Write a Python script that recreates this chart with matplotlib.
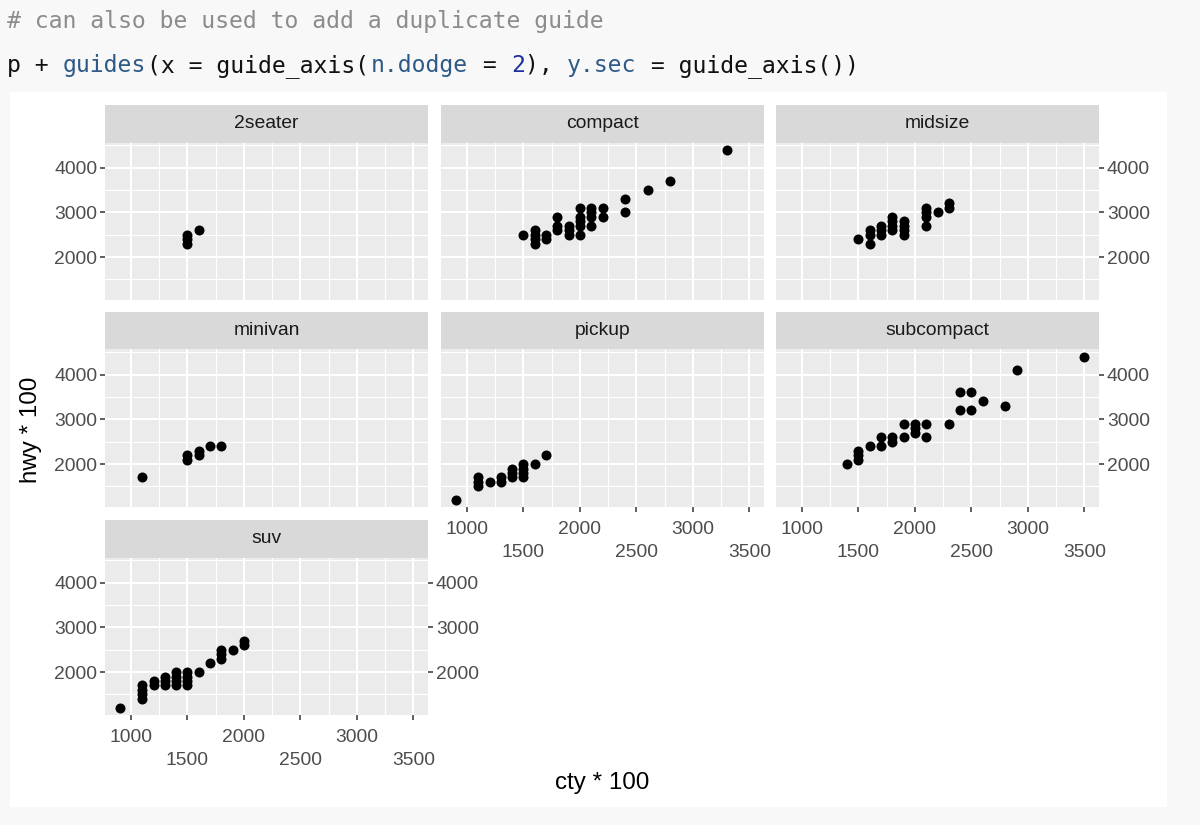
import matplotlib
matplotlib.use("Agg")
import matplotlib.pyplot as plt
from matplotlib.patches import Rectangle

# ── DATA (cty * 100, hwy * 100 read from the facets) ──────────
classes = ["2seater", "compact", "midsize", "minivan", "pickup", "subcompact", "suv"]

seater_x = [1500, 1500, 1500, 1600]
seater_y = [2300, 2400, 2500, 2600]

compact_x = [1500, 1600, 1600, 1600, 1600, 1700, 1700, 1800, 1800, 1800,
             1900, 1900, 1900, 2000, 2000, 2000, 2000, 2000, 2100, 2100,
             2100, 2100, 2200, 2200, 2400, 2400, 2600, 2800, 3300]
compact_y = [2500, 2600, 2500, 2400, 2300, 2500, 2400, 2900, 2700, 2600,
             2700, 2600, 2500, 3100, 2900, 2800, 2700, 2500, 3100, 3000,
             2900, 2700, 3100, 2900, 3300, 3000, 3500, 3700, 4400]

midsize_x = [1500, 1600, 1600, 1600, 1700, 1700, 1700, 1800, 1800, 1800,
             1800, 1900, 1900, 1900, 1900, 2100, 2100, 2100, 2100, 2200,
             2300, 2300]
midsize_y = [2400, 2600, 2500, 2300, 2700, 2600, 2500, 2900, 2800, 2700,
             2600, 2800, 2700, 2600, 2500, 3100, 3000, 2900, 2700, 3000,
             3200, 3100]

minivan_x = [1100, 1500, 1500, 1600, 1600, 1700, 1800]
minivan_y = [1700, 2200, 2100, 2300, 2200, 2400, 2400]

pickup_x = [900, 1100, 1100, 1100, 1200, 1300, 1300, 1400, 1400, 1400,
            1500, 1500, 1500, 1500, 1600, 1700]
pickup_y = [1200, 1700, 1600, 1500, 1600, 1700, 1600, 1900, 1800, 1700,
            2000, 1900, 1800, 1700, 2000, 2200]

subcompact_x = [1400, 1500, 1500, 1500, 1600, 1700, 1700, 1800, 1800, 1900,
                1900, 2000, 2000, 2000, 2100, 2100, 2300, 2400, 2400, 2500,
                2500, 2600, 2800, 2900, 3500]
subcompact_y = [2000, 2300, 2200, 2100, 2400, 2600, 2400, 2600, 2500, 2900,
                2600, 2900, 2800, 2700, 2900, 2600, 2900, 3600, 3200, 3600,
                3200, 3400, 3300, 4100, 4400]

suv_x = [900, 1100, 1100, 1100, 1100, 1200, 1200, 1300, 1300, 1300,
         1400, 1400, 1400, 1400, 1500, 1500, 1500, 1500, 1600, 1700,
         1800, 1800, 1800, 1900, 2000, 2000]
suv_y = [1200, 1700, 1600, 1500, 1400, 1800, 1700, 1900, 1800, 1700,
         2000, 1900, 1800, 1700, 2000, 1900, 1800, 1700, 2000, 2200,
         2500, 2400, 2300, 2500, 2700, 2600]

xs = [seater_x, compact_x, midsize_x, minivan_x, pickup_x, subcompact_x, suv_x]
ys = [seater_y, compact_y, midsize_y, minivan_y, pickup_y, subcompact_y, suv_y]

x_breaks = [1000, 1500, 2000, 2500, 3000, 3500]
x_minor = [1250, 1750, 2250, 2750, 3250]
y_breaks = [2000, 3000, 4000]
y_minor = [1500, 2500, 3500, 4500]

# ── FIGURE ────────────────────────────────────────────────────
W, H = 1200, 825
fig = plt.figure(figsize=(W / 100, H / 100), dpi=100, facecolor="#f8f8f8")
plt.rcParams["font.family"] = ["Liberation Sans", "DejaVu Sans"]


def rect(l, t, r, b):
    return [l / W, 1 - b / H, (r - l) / W, (b - t) / H]


# white plot canvas behind the panels
fig.patches.append(Rectangle((10 / W, 1 - 807 / H), 1157 / W, 715 / H,
                             transform=fig.transFigure, facecolor="white",
                             edgecolor="none", zorder=-5))

# code lines above the plot (monospace, one slot per character)
cw = 14.0
code_lines = [
    (28, [("# can also be used to add a duplicate guide", "#8c8c8c")]),
    (72, [("p + ", "#111111"), ("guides", "#2e5a87"), ("(x = guide_axis(", "#111111"),
          ("n.dodge", "#2e5a87"), (" = ", "#111111"), ("2", "#1f2fa0"),
          ("), ", "#111111"), ("y.sec", "#2e5a87"), (" = guide_axis())", "#111111")]),
]
for base, pieces in code_lines:
    col = 0
    for txt, c in pieces:
        fig.text((7 + col * cw) / W, 1 - base / H, txt, color=c,
                 family="DejaVu Sans Mono", fontsize=16.7, va="baseline")
        col += len(txt)

# ── PANELS ────────────────────────────────────────────────────
col_left = [105, 441, 776]
row_top = [105, 312, 520]
pw, strip_h, ph = 323, 37.5, 157.5
tick_col = "#333333"
lab_col = "#4d4d4d"

for i, name in enumerate(classes):
    r, c = divmod(i, 3)
    l, t = col_left[c], row_top[r]
    sax = fig.add_axes(rect(l, t, l + pw, t + strip_h))
    sax.set_facecolor("#d9d9d9")
    sax.set_xticks([])
    sax.set_yticks([])
    for s in sax.spines.values():
        s.set_visible(False)
    sax.text(0.5, 0.5, name, ha="center", va="center", fontsize=13.9,
             color="#1a1a1a", transform=sax.transAxes)

    ax = fig.add_axes(rect(l, t + strip_h, l + pw, t + strip_h + ph))
    ax.set_facecolor("#ebebeb")
    for s in ax.spines.values():
        s.set_visible(False)
    ax.set_xlim(770, 3630)
    ax.set_ylim(1040, 4560)
    ax.set_xticks(x_breaks)
    ax.set_xticks(x_minor, minor=True)
    ax.set_yticks(y_breaks)
    ax.set_yticks(y_minor, minor=True)
    ax.grid(which="major", color="white", linewidth=1.5)
    ax.grid(which="minor", color="white", linewidth=0.8)
    ax.set_axisbelow(True)
    ax.scatter(xs[i], ys[i], s=52, color="black", linewidths=0, zorder=3)

    # x axis only under panels with nothing below them, dodged in two rows
    show_x = (r == 2) or (r == 1 and c > 0)
    ax.set_xticklabels([f"{v}" if k % 2 == 0 else f"\n{v}" for k, v in enumerate(x_breaks)])
    for lab in ax.get_xticklabels():
        lab.set_linespacing(1.45)
    show_left = c == 0
    show_right = c == 2 or i == len(classes) - 1
    ax.tick_params(which="minor", length=0)
    ax.tick_params(axis="x", which="major", bottom=show_x, labelbottom=show_x,
                   length=3.6, width=1.1, color=tick_col, labelcolor=lab_col,
                   labelsize=13.9, pad=6.3)
    ax.tick_params(axis="y", which="major", left=show_left, labelleft=show_left,
                   right=show_right, labelright=show_right,
                   length=3.6, width=1.1, color=tick_col, labelcolor=lab_col,
                   labelsize=13.9, pad=2)

fig.text(602 / W, 1 - 783 / H, "cty * 100", ha="center", va="center",
         fontsize=17.4, color="black")
fig.text(31 / W, 1 - 430 / H, "hwy * 100", ha="center", va="center",
         rotation=90, fontsize=17.4, color="black")

fig.savefig("out.png", dpi=100, facecolor=fig.get_facecolor())
